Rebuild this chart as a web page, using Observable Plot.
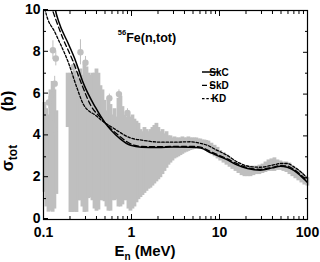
<!DOCTYPE html>
<html>
<head>
<meta charset="utf-8">
<script src="https://cdn.jsdelivr.net/npm/d3@7"></script>
<script src="https://cdn.jsdelivr.net/npm/@observablehq/plot@0.6"></script>
<style>
  html, body { margin: 0; padding: 0; background: white; }
  svg { display: block; }
</style>
</head>
<body>
<script>
// ---- Experimental data envelope (energy MeV, lower and upper cross section in b) ----
const colE  = [0.1026,0.108,0.114,0.120,0.127,0.133,0.140,
  0.188,0.2024,0.213,0.225,0.237,0.250,0.263,0.277,0.292,0.308,0.325,0.342,0.360,0.380,0.400,0.421,
  0.444,0.468,0.493,0.519,0.547,0.577,0.608,0.641,0.675,0.711,0.749,0.789,0.832,0.876,0.923,0.973,
  1.025,1.08,1.14,1.20,1.265,1.333,1.404,1.48,1.56,1.64,1.73,1.82,1.92,2.02,2.13,2.25,2.37,2.50,2.63,
  2.77,2.92,3.08,3.24,3.41,3.60,3.79,3.99,4.21,4.43,4.67,4.92,5.18,5.46,5.76,6.06,6.39,6.73,7.09,
  7.48,8.1,8.8,9.5,10.2,11.1,12.0,13.0,14.0,15.2,16.4,17.8,19.2,20.8,22.5,24.3,26.3,28.4,30.8,33.3,
  36.0,38.9,42.1,45.5,49.2,53.2,57.6,62.3,67.3,72.8,78.7,85.2,92.1,99.6];
const colLo = [1.3,0.6,0.35,0.4,0.35,0.5,1.2,
  4.4,0.33,0.33,0.35,0.33,0.9,0.9,0.6,0.33,0.35,1.0,1.05,0.9,0.5,0.4,0.45,
  0.9,0.9,0.85,0.6,0.4,0.4,0.9,0.9,0.95,0.6,0.6,0.7,0.9,0.9,0.5,0.4,
  0.5,0.6,0.8,0.95,1.05,1.15,1.25,1.35,1.45,1.5,1.6,1.7,1.8,1.9,2.0,2.15,2.3,2.45,2.6,
  2.7,2.8,2.9,2.95,3.0,3.06,3.12,3.18,3.22,3.26,3.3,3.33,3.36,3.4,3.42,3.42,3.4,3.35,3.3,
  3.2,3.1,3.0,2.9,2.8,2.7,2.6,2.5,2.4,2.3,2.2,2.1,2.05,2.05,2.05,2.1,2.15,2.15,2.2,2.25,
  2.3,2.3,2.3,2.35,2.35,2.3,2.25,2.15,2.05,1.95,1.85,1.75,1.65,1.6];
const colHi = [5.6,5.3,5.0,6.2,6.6,6.2,5.2,
  7.0,7.0,6.9,7.1,6.8,7.0,7.2,6.9,7.4,7.3,7.0,6.9,7.0,7.0,7.2,7.0,
  6.4,6.2,5.7,5.2,5.7,5.5,5.0,5.3,4.9,5.8,5.9,5.4,5.0,4.9,5.0,4.9,
  5.0,4.8,4.7,4.6,4.3,4.2,4.4,4.3,4.2,4.3,4.4,4.5,4.6,4.4,4.2,4.3,4.1,4.2,4.0,
  4.0,3.9,3.95,3.9,3.9,3.9,3.95,3.9,3.9,3.95,3.9,3.9,3.9,3.9,3.85,3.85,3.8,3.8,3.78,
  3.75,3.65,3.55,3.45,3.3,3.2,3.1,2.95,2.85,2.75,2.65,2.6,2.55,2.55,2.55,2.55,2.55,2.6,2.65,2.75,
  2.85,2.9,2.95,2.85,2.8,2.75,2.75,2.7,2.55,2.45,2.35,2.25,2.1,2.0];

// ---- Individual experimental points with error bars ----
const ptE   = [0.128,0.138,0.134,0.125,0.115,0.118,0.132,0.263,0.22,0.30,0.56,0.72,0.90];
const ptSig = [8.1,7.7,6.5,6.0,5.6,4.7,4.3,8.0,7.3,7.5,5.8,6.0,5.1];
const ptErr = [0.45,0.35,0.35,0.3,0.3,0.4,0.3,0.6,0.3,0.3,0.2,0.2,0.2];

// ---- Calculations ----
const skcE = [0.13,0.137,0.148,0.192,0.231,0.285,0.39,0.506,0.577,0.75,0.977,1.3,2,3,4.7,6.1,7.9,10.2,12.3,16,20.8,29,40,49,59,70,83,100];
const skcS = [10.6,10.0,9.5,8.4,7.6,6.5,5.36,4.6,4.3,3.85,3.55,3.46,3.45,3.47,3.46,3.42,3.2,3.0,2.85,2.6,2.44,2.36,2.47,2.55,2.5,2.35,2.1,1.77];
const skdE = [0.12,0.127,0.137,0.165,0.21,0.27,0.34,0.45,0.55,0.75,0.977,1.3,2,3,4.7,6.1,7.9,10.2,12.3,16,20.8,29,40,49,59,70,83,100];
const skdS = [10.3,10.0,9.6,8.7,7.7,6.5,5.5,4.85,4.45,3.95,3.62,3.5,3.48,3.5,3.5,3.46,3.25,3.05,2.9,2.66,2.48,2.4,2.5,2.58,2.56,2.4,2.15,1.82];
const kdE  = [0.1,0.105,0.137,0.192,0.24,0.285,0.4,0.5,0.609,0.69,0.977,1.3,2.14,3,4.7,6,7.3,9,12.3,16,20.8,29,40,50,59,70,83,100];
const kdS  = [10.5,10.0,8.9,7.5,6.3,5.5,4.95,4.62,4.4,4.25,3.9,3.8,3.7,3.7,3.72,3.65,3.55,3.35,3.06,2.75,2.56,2.5,2.6,2.68,2.68,2.52,2.3,1.96];

// ---- Ticks ----
const xMajor = [0.1, 1, 10, 100];
const xMinor = [0.2,0.3,0.4,0.5,0.6,0.7,0.8,0.9,2,3,4,5,6,7,8,9,20,30,40,50,60,70,80,90];
const yMajor = [0, 2, 4, 6, 8, 10];
const yMinor = [1, 3, 5, 7, 9];

const cols = colE.map((E, i) => ({E, lo: colLo[i], hi: colHi[i]}));
const pts = ptE.map((E, i) => ({E, y: ptSig[i], e: ptErr[i]}));
const skc = skcE.map((E, i) => ({E, s: skcS[i]}));
const skd = skdE.map((E, i) => ({E, s: skdS[i]}));
const kd = kdE.map((E, i) => ({E, s: kdS[i]}));

const gray = "#bfbfbf";
const font = "'Liberation Sans', Arial, Helvetica, sans-serif";
const blank = () => "";

const svg = Plot.plot({
  width: 320, height: 262,
  marginLeft: 43, marginRight: 13, marginTop: 10, marginBottom: 43,
  x: {type: "log", domain: [0.1, 100]},
  y: {domain: [0, 10]},
  style: {fontFamily: font, fontWeight: "bold", fontSize: "14px", color: "black", background: "white", overflow: "visible"},
  marks: [
    Plot.ruleX(cols, {x: "E", y1: "lo", y2: "hi", stroke: gray, strokeWidth: 3.8}),
    Plot.ruleX(pts, {x: "E", y1: d => d.y - d.e, y2: d => d.y + d.e, stroke: gray, strokeWidth: 1}),
    Plot.dot(pts, {x: "E", y: "y", r: 3.2, fill: gray}),
    Plot.line(kd, {x: "E", y: "s", stroke: "black", strokeWidth: 1.3, strokeDasharray: "2.5,1.8", curve: "monotone-x", clip: true}),
    Plot.line(skd, {x: "E", y: "s", stroke: "black", strokeWidth: 1.3, strokeDasharray: "5,3", curve: "monotone-x", clip: true}),
    Plot.line(skc, {x: "E", y: "s", stroke: "black", strokeWidth: 1.5, curve: "monotone-x", clip: true}),
    Plot.frame({stroke: "black", strokeWidth: 1.2}),
    Plot.axisX(xMajor, {anchor: "bottom", tickSize: -5, tickPadding: 13, tickFormat: d => String(d), label: null}),
    Plot.axisX(xMinor, {anchor: "bottom", tickSize: -3, tickFormat: blank, label: null}),
    Plot.axisX(xMajor, {anchor: "top", tickSize: -5, tickFormat: blank, label: null}),
    Plot.axisX(xMinor, {anchor: "top", tickSize: -3, tickFormat: blank, label: null}),
    Plot.axisY(yMajor, {anchor: "left", tickSize: -5, tickPadding: 8, dy: -1, tickFormat: d => String(d), label: null}),
    Plot.axisY(yMinor, {anchor: "left", tickSize: -3, tickFormat: blank, label: null}),
    Plot.axisY(yMajor, {anchor: "right", tickSize: -5, tickFormat: blank, label: null}),
    Plot.axisY(yMinor, {anchor: "right", tickSize: -3, tickFormat: blank, label: null})
  ]
});
document.body.appendChild(svg);

// ---- Annotations: title, legend, axis labels ----
const s = d3.select(svg);
const t = s.append("text").attr("x", 147).attr("y", 42)
  .attr("font-family", font).attr("font-weight", "bold").attr("fill", "black");
t.append("tspan").attr("font-size", 7.5).attr("dy", -7).text("56");
t.append("tspan").attr("font-size", 12.5).attr("dy", 7).text("Fe(n,tot)");

const legend = [
  {name: "SkC", dash: null, w: 1.5},
  {name: "SkD", dash: "5,3", w: 1.3},
  {name: "KD", dash: "2.5,1.8", w: 1.3}
];
legend.forEach((L, i) => {
  const cy = 72 + i * 13.3;
  s.append("line").attr("x1", 202).attr("x2", 219).attr("y1", cy).attr("y2", cy)
    .attr("stroke", "black").attr("stroke-width", L.w).attr("stroke-dasharray", L.dash);
  s.append("text").attr("x", 219).attr("y", cy + 3.5)
    .attr("font-family", font).attr("font-weight", "bold").attr("font-size", 10)
    .attr("fill", "black").text(L.name);
});

const xl = s.append("text").attr("x", 145).attr("y", 256)
  .attr("font-family", font).attr("font-weight", "bold").attr("fill", "black");
xl.append("tspan").attr("font-size", 15).text("E");
xl.append("tspan").attr("font-size", 10).attr("dy", 4).text("n");
xl.append("tspan").attr("font-size", 15).attr("dy", -4).text(" (MeV)");

const yl = s.append("text").attr("transform", "translate(13,158) rotate(-90)")
  .attr("font-family", font).attr("font-weight", "bold").attr("fill", "black");
yl.append("tspan").attr("font-size", 16).text("σ");
yl.append("tspan").attr("font-size", 12).attr("dy", 4).text("tot");
s.append("text").attr("transform", "translate(13,101) rotate(-90)")
  .attr("text-anchor", "middle")
  .attr("font-family", font).attr("font-weight", "bold").attr("font-size", 16)
  .attr("fill", "black").text("(b)");
</script>
</body>
</html>
